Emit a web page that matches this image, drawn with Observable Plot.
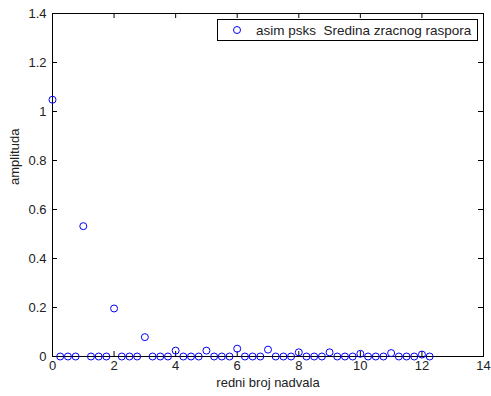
<!DOCTYPE html>
<html>
<head>
<meta charset="utf-8">
<script src="https://cdn.jsdelivr.net/npm/d3@7"></script>
<script src="https://cdn.jsdelivr.net/npm/@observablehq/plot@0.6"></script>
<style>
  html, body { margin: 0; padding: 0; background: #fff; }
  svg { font-family: "Liberation Sans", Arial, Helvetica, sans-serif; }
</style>
</head>
<body>
<div id="chart"></div>
<script>
// Harmonic index (step 0.25) and amplitude
const harmonic = d3.range(0, 50).map(k => k * 0.25);
const amplitude = [
  1.048, 0, 0, 0,
  0.532, 0, 0, 0,
  0.196, 0, 0, 0,
  0.079, 0, 0, 0,
  0.024, 0, 0, 0,
  0.024, 0, 0, 0,
  0.032, 0, 0, 0,
  0.028, 0, 0, 0,
  0.017, 0, 0, 0,
  0.017, 0, 0, 0,
  0.011, 0, 0, 0,
  0.014, 0, 0, 0,
  0.008, 0
];
const xTicks = [0, 2, 4, 6, 8, 10, 12, 14];
const yTicks = [0, 0.2, 0.4, 0.6, 0.8, 1, 1.2, 1.4];
const seriesName = "asim psks  Sredina zracnog raspora";

const data = harmonic.map((h, i) => ({h, a: amplitude[i]}));

const W = 491, H = 396;
const mL = 52, mR = 8, mT = 13, mB = 40;
const innerH = H - mT - mB, innerW = W - mL - mR;
const tk = 5;
const fs = 13;

const chart = Plot.plot({
  width: W,
  height: H,
  marginLeft: mL,
  marginRight: mR,
  marginTop: mT,
  marginBottom: mB,
  style: {fontSize: fs + "px", fontFamily: "Liberation Sans, Arial, Helvetica, sans-serif", color: "#222", background: "#fff"},
  x: {domain: [0, 14], ticks: xTicks, tickFormat: d => String(d)},
  y: {domain: [0, 1.4], ticks: yTicks, tickFormat: d => String(d)},
  marks: [
    Plot.axisX({ticks: xTicks, tickSize: 0, tickPadding: 4, fontSize: fs, label: null, tickFormat: d => String(d)}),
    Plot.axisY({ticks: yTicks, tickSize: 0, tickPadding: 6, fontSize: fs, label: null, tickFormat: d => String(d)}),
    Plot.ruleX(xTicks, {x: d => d, stroke: "#000", insetTop: innerH - tk}),
    Plot.ruleX(xTicks, {x: d => d, stroke: "#000", insetBottom: innerH - tk}),
    Plot.ruleY(yTicks, {y: d => d, stroke: "#000", insetRight: innerW - tk}),
    Plot.ruleY(yTicks, {y: d => d, stroke: "#000", insetLeft: innerW - tk}),
    Plot.frame({stroke: "#000", strokeWidth: 1}),
    Plot.dot(data, {x: "h", y: "a", r: 3.5, stroke: "#0000ff", strokeWidth: 1, fill: "none"}),
    Plot.text(["redni broj nadvala"], {frameAnchor: "bottom", dy: 30, text: d => d, fontSize: fs, fill: "#222"}),
    Plot.text(["amplituda"], {frameAnchor: "left", dx: -38, rotate: -90, text: d => d, fontSize: fs, fill: "#222"})
  ]
});

document.getElementById("chart").appendChild(chart);

// Legend inside plot (upper right)
const svg = d3.select(chart);
const lg = svg.append("g").attr("class", "legend").attr("text-anchor", "start");
lg.append("rect").attr("x", 217.5).attr("y", 19.5).attr("width", 260).attr("height", 21)
  .attr("fill", "#fff").attr("stroke", "#000");
lg.append("circle").attr("cx", 237).attr("cy", 30).attr("r", 3.5)
  .attr("fill", "none").attr("stroke", "#0000ff");
lg.append("text").attr("x", 256).attr("y", 30).attr("dy", "0.35em").attr("text-anchor", "start")
  .attr("font-size", 13.5).attr("fill", "#222").style("white-space", "pre").text(seriesName);
</script>
</body>
</html>
